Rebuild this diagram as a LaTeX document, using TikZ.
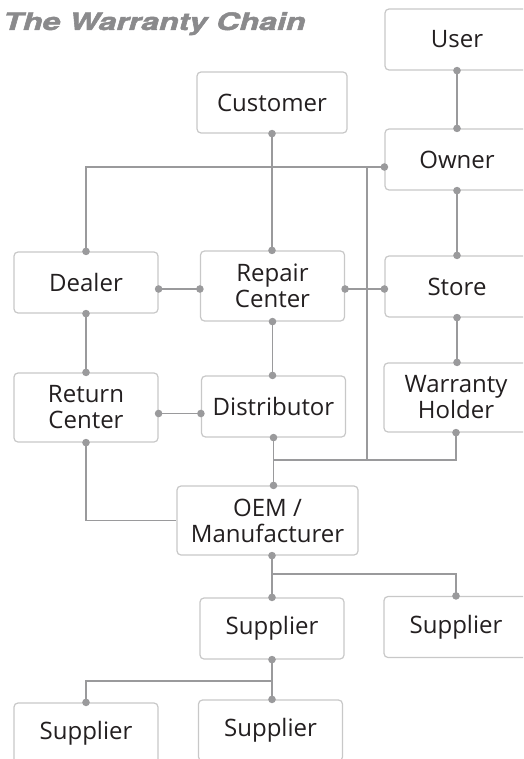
\documentclass[tikz,border=0pt]{standalone}
\usepackage{fontspec}
\setmainfont{Open Sans}
\newfontfamily\titlefont[BoldItalicFeatures={FakeBold=1.8}]{TeX Gyre Heros}
\usetikzlibrary{arrows.meta}

\definecolor{boxgray}{HTML}{C8C8C8}
\definecolor{linkgray}{HTML}{9A9A9C}
\definecolor{ink}{HTML}{231F20}
\definecolor{titlegray}{HTML}{8A8A8C}

\begin{document}
\begin{tikzpicture}[x=1pt,y=-1pt,
  box/.style={draw=boxgray,line width=1.2pt,rounded corners=4pt,fill=white,
    minimum width=144pt,minimum height=61pt,inner sep=2pt,align=center,
    text=ink,font=\fontsize{24}{26}\selectfont},
  link/.style={draw=linkgray,line width=1.3pt},
  dotboth/.style={link,{Circle[length=7.5pt]}-{Circle[length=7.5pt]},shorten <=-3.75pt,shorten >=-3.75pt},
  dotstart/.style={link,{Circle[length=7.5pt]}-,shorten <=-3.75pt},
  dotend/.style={link,-{Circle[length=7.5pt]},shorten >=-3.75pt}]
  \useasboundingbox (0,0) rectangle (523,759);
  \clip (0,0) rectangle (523,759);
  \node[anchor=base west,inner sep=0,text=titlegray,
    font=\titlefont\bfseries\itshape\fontsize{24}{24}\selectfont] (title) at (3,30) {\scalebox{1.34}[1]{The Warranty Chain}};
  % the chain boxes
  \node[box] (user) at (457,39.5) {User};
  \node[box,minimum width=150pt] (customer) at (272,102.5) {Customer};
  \node[box] (owner) at (457,159.5) {Owner};
  \node[box] (dealer) at (86,282.5) {Dealer};
  \node[box,minimum height=70pt] (repair) at (272.5,286) {Repair\\Center};
  \node[box] (store) at (457,286.5) {Store};
  \node[box,minimum height=69pt] (return) at (86,407.5) {Return\\Center};
  \node[box] (distributor) at (273.5,406.5) {Distributor};
  \node[box,minimum height=69pt] (holder) at (456,397.5) {Warranty\\Holder};
  \node[box,minimum width=181pt,minimum height=69pt] (oem) at (267.5,520.5) {OEM /\\Manufacturer};
  \node[box] (supA) at (272,628.5) {Supplier};
  \node[box] (supB) at (456,627) {Supplier};
  \node[box] (supC) at (86,733.5) {Supplier};
  \node[box] (supD) at (270.5,730.5) {Supplier};
  % junctions on the buses
  \coordinate (busTop) at (367,167);
  \coordinate (busLow) at (367,460);
  \coordinate (oemBus) at (272,574);
  \coordinate (supBus) at (272,681);
  % links
  \draw[dotboth] (user) -- (owner);
  \draw[dotboth] (customer.south) -- (customer.south |- repair.north);
  \draw[dotboth] (dealer.north) |- ([yshift=-7.5pt]owner.west);
  \draw[link] (busTop) -- (busLow);
  \draw[dotboth] ([yshift=-6.5pt]dealer.east) -- ([yshift=-6.5pt]dealer.east -| repair.west);
  \draw[dotboth] ([yshift=-3pt]repair.east) -- ([yshift=-3pt]repair.east -| store.west);
  \draw[dotboth] (owner) -- (store);
  \draw[dotboth] (dealer) -- (return);
  \draw[dotboth] (repair.south) -- (repair.south |- distributor.north);
  \draw[dotboth] (store.south) -- (store.south |- holder.north);
  \draw[dotboth] ([yshift=-6pt]return.east) -- ([yshift=-6pt]return.east -| distributor.west);
  \draw[dotboth] (distributor.south) -- (distributor.south |- oem.north);
  \draw[dotend] (distributor.south |- busLow) -| (holder.south);
  \draw[dotstart] (return.south) |- (oem.west);
  \draw[dotboth] (oem.south -| supA.north) -- (supA.north);
  \draw[dotend] (oemBus) -| (supB.north);
  \draw[dotboth] (supA.south) -- (supA.south |- supD.north);
  \draw[dotend] (supBus) -| (supC.north);
\end{tikzpicture}
\end{document}
